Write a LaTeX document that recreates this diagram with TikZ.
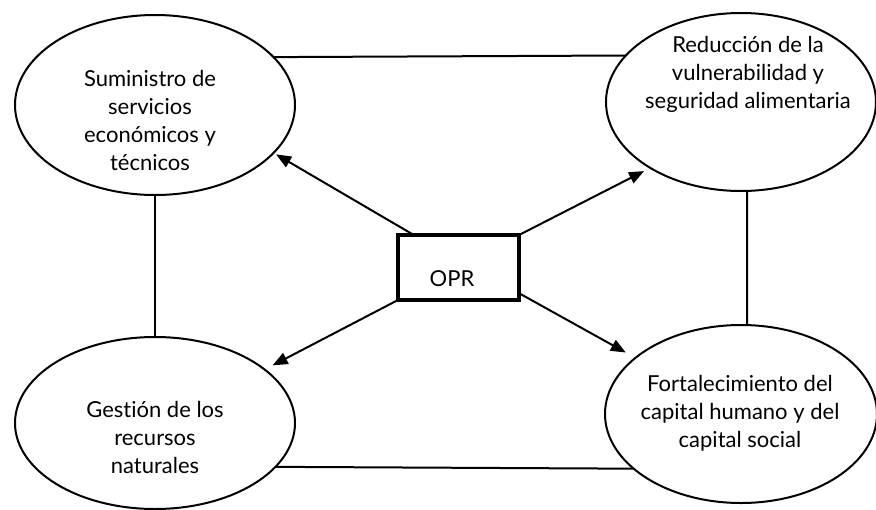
\documentclass[tikz,border=0pt]{standalone}
\usepackage{fontspec}
\setmainfont{Lato}[Ligatures=NoCommon]
\usetikzlibrary{shapes,arrows.meta}
\tikzstyle{oval} = [draw,ellipse,line width=2pt,inner sep=0pt,outer sep=0pt]
\tikzstyle{box} = [draw,rectangle,line width=3.5pt,inner sep=0pt,outer sep=0pt]
\tikzstyle{lbl} = [align=center,inner sep=0pt,font=\fontsize{22}{28}\selectfont]
\tikzstyle{link} = [line width=2pt]
\tikzstyle{arrow} = [line width=2pt,-{Triangle[length=15pt,width=12pt]}]

\begin{document}
\begin{tikzpicture}[x=1pt,y=-1pt]
  \useasboundingbox (0,0) rectangle (876,509);
  \node[oval,minimum width=280pt,minimum height=180pt] (sum) at (155,105) {};
  \node[oval,minimum width=270pt,minimum height=178pt] (red) at (741,102) {};
  \node[oval,minimum width=280pt,minimum height=172pt] (ges) at (155,423) {};
  \node[oval,minimum width=272pt,minimum height=178pt] (fort) at (741,414) {};
  \node[box,minimum width=121pt,minimum height=65pt] (opr) at (458.5,267.5) {};
  \node[lbl] (sumlbl) at (150,120) {Suministro de\\servicios\\económicos y\\técnicos};
  \node[lbl] (redlbl) at (748,74) {Reducción de la\\vulnerabilidad y\\seguridad alimentaria};
  \node[lbl] (geslbl) at (155,437) {Gestión de los\\recursos\\naturales};
  \node[lbl] (fortlbl) at (740,413) {Fortalecimiento del\\capital humano y del\\capital social};
  \node[lbl] (oprlbl) at (452,279) {OPR};
  \draw[link] (sum.22.65) -- (red.158.3);
  \draw[link] (ges.-20.67) -- (fort.-153.45);
  \draw[link] (sum.south) -- (ges.north);
  \draw[link] (red.-86) -- (fort.86);
  \draw[arrow,shorten >=3pt] (opr.144.5) -- (sum.-22);
  \draw[arrow,shorten >=7pt] (opr.north east) -- (red.-144.5);
  \draw[arrow,shorten >=9pt] (opr.south west) -- (ges.26.4);
  \draw[arrow,shorten >=11pt] (opr.-23) -- (fort.152.3);
\end{tikzpicture}
\end{document}
